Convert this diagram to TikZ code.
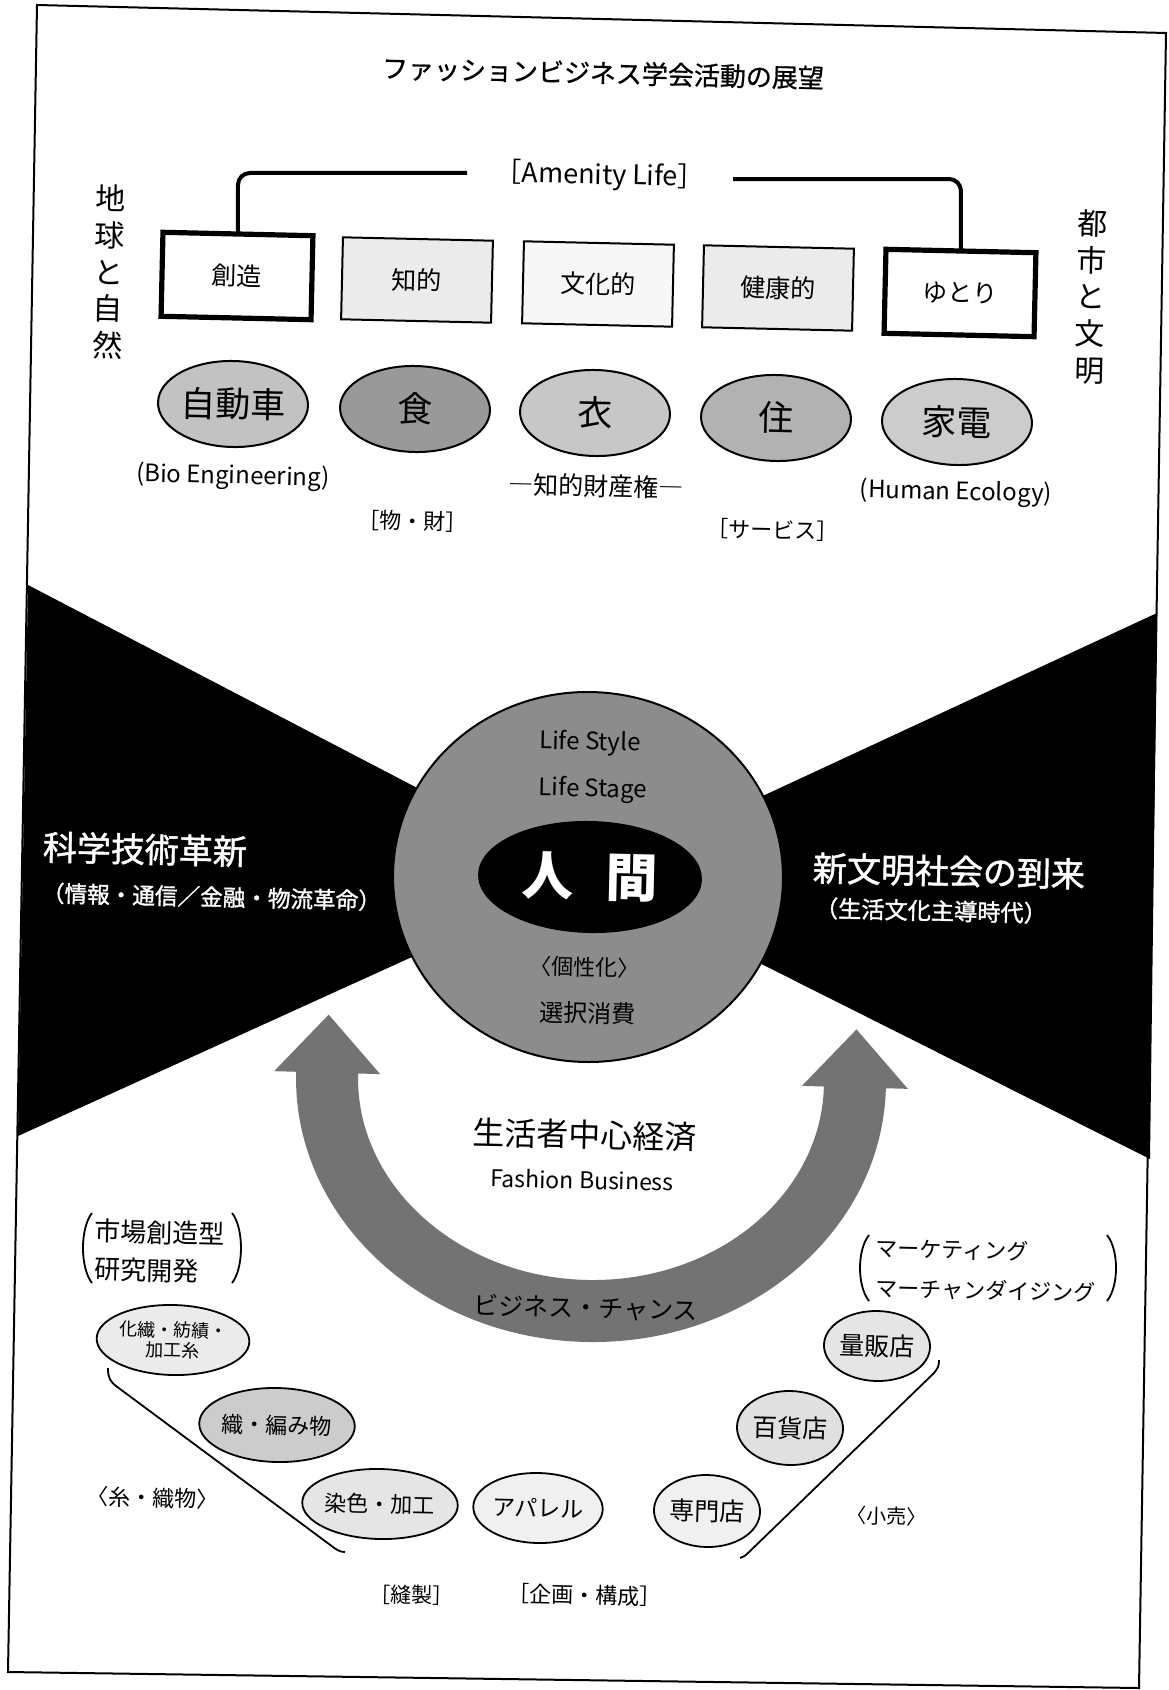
\documentclass[tikz,border=0pt]{standalone}
\usepackage{fontspec}
\setmainfont{Noto Sans CJK JP}
\newfontfamily\jpfb[FakeBold=1.4]{Noto Sans CJK JP}
\newfontfamily\jpsb[FakeBold=0.8]{Noto Sans CJK JP}
\usetikzlibrary{shapes.geometric}
\newcommand\fsz[1]{\fontsize{#1pt}{#1pt}\selectfont}
\begin{document}
\begin{tikzpicture}[x=0.5pt,y=-0.5pt,
  every node/.style={inner sep=0pt, outer sep=0pt, rotate=-1.3},
  frameline/.style={line width=1pt},
  conn/.style={line width=2pt, rounded corners=6pt},
  thinbox/.style={draw, line width=1pt, minimum width=75pt, minimum height=41pt, font=\fsz{12.5}},
  thickbox/.style={thinbox, line width=2.6pt, minimum height=42pt},
  oval/.style={ellipse, draw, line width=1pt, minimum width=75pt, minimum height=43pt, font=\fsz{17.5}},
  lbl/.style={font=\fsz{12}},
  small/.style={ellipse, draw, line width=0.9pt, minimum width=64pt, minimum height=36pt, font=\fsz{11.5}},
  shop/.style={small, minimum width=47pt, minimum height=36pt, font=\fsz{12.5}},
  whitehead/.style={text=white, font=\jpfb\fsz{17}, anchor=west},
  whitesub/.style={text=white, font=\jpfb\fsz{11.3}, anchor=west},
  bracket/.style={line width=0.9pt},
  guide/.style={line width=0.9pt}
]
\useasboundingbox (0,0) rectangle (1168,1690);
\fill[white] (0,0) rectangle (1168,1690);

% frame
\draw[frameline] (37,5) -- (1166,33) -- (1139,1688) -- (8,1672) -- cycle;

% title
\node[font=\jpsb\fsz{13}] (title) at (603,73) {ファッションビジネス学会活動の展望};

% Amenity Life
\node[font=\fsz{13.5}, inner xsep=14pt] (amen) at (600,176) {［Amenity Life］};

% side vertical texts
\node[align=center, font={\fontsize{15pt}{18.3pt}\selectfont}] (earth) at (109,272) {地\\球\\と\\自\\然};
\node[align=center, font={\fontsize{15pt}{18.3pt}\selectfont}] (city) at (1091,297) {都\\市\\と\\文\\明};

% boxes
\node[thickbox, fill=white] (b1) at (237,276) {創造};
\node[thinbox, fill=black!8] (b2) at (417,280) {知的};
\node[thinbox, fill=black!3] (b3) at (598,284) {文化的};
\node[thinbox, fill=black!8] (b4) at (778,288) {健康的};
\node[thickbox, fill=white] (b5) at (960,293) {ゆとり};

\draw[conn] (amen.west) -| (b1.north);
\draw[conn] (amen.east) -| (b5.north);

% ovals
\node[oval, fill=black!24] (e1) at (233,404) {自動車};
\node[oval, fill=black!40] (e2) at (415,409) {食};
\node[oval, fill=black!22] (e3) at (595,413) {衣};
\node[oval, fill=black!30] (e4) at (776,418) {住};
\node[oval, fill=black!20] (e5) at (957,422) {家電};

% labels
\node[lbl] (bio) at (233,477) {(Bio Engineering)};
\node[lbl, font=\fsz{11}] (mono) at (413,521) {［物・財］};
\node[lbl, font=\fsz{12.5}] (chiteki) at (596,486) {―知的財産権―};
\node[lbl, font=\fsz{11}] (serv) at (773,530) {［サービス］};
\node[lbl] (humaneco) at (956,493) {(Human Ecology)};

% black bow tie
\fill[black] (28,585) -- (588,877) -- (18,1136) -- cycle;
\fill[black] (1157,613) -- (588,877) -- (1150,1159) -- cycle;

% central globe
\node[ellipse, draw, line width=1pt, fill=black!45, minimum width=195pt, minimum height=185pt] (globe) at (588,877) {};
\node[ellipse, fill=black, minimum width=112pt, minimum height=56pt, text=white, font=\bfseries\fsz{26}] (ningen) at (590,877) {人\hspace{0.6em}間};
\node[font=\fsz{12}] (lstyle) at (590,743) {Life Style};
\node[font=\fsz{12}] (lstage) at (593,790) {Life Stage};
\node[font=\fsz{11}] (kosei) at (585,967) {〈個性化〉};
\node[font=\fsz{12}] (sentaku) at (588,1013) {選択消費};

% white texts
\node[whitehead] (kagaku) at (43,847) {科学技術革新};
\node[whitesub] (joho) at (42,893) {（情報・通信／金融・物流革命）};
\node[whitehead] (shinbun) at (813,868) {新文明社会の到来};
\node[whitesub, font=\jpfb\fsz{11.6}] (seibun) at (815,908) {（生活文化主導時代）};

% U arrow
\begin{scope}[rotate around={-1.6:(591,1080)}]
\fill[black!55] (296,1080) arc[start angle=180, end angle=0, x radius=295, y radius=262]
  -- (908,1080) -- (855,1022) -- (802,1080) -- (824,1080)
  arc[start angle=0, end angle=180, x radius=233, y radius=200]
  -- (380,1080) -- (327,1022) -- (274,1080) -- cycle;
\end{scope}
\node[font=\fsz{16}] (seikatsusha) at (585,1135) {生活者中心経済};
\node[font=\fsz{11.5}] (fb) at (582,1180) {Fashion Business};
\node[font=\fsz{12.5}] (chance) at (586,1308) {ビジネス・チャンス};

% left bracket group
\node[font=\fsz{13}, anchor=west] (shijo) at (95,1231) {市場創造型};
\node[font=\fsz{13}, anchor=west] (kenkyu) at (95,1269) {研究開発};
\draw[bracket] (92,1213) .. controls (80,1228) and (80,1268) .. (92,1283);
\draw[bracket] (232,1213) .. controls (244,1228) and (244,1268) .. (232,1283);

% right bracket group
\node[font=\fsz{11}, anchor=west] (mkt) at (876,1248) {マーケティング};
\node[font=\fsz{11}, anchor=west] (md) at (876,1288) {マーチャンダイジング};
\draw[bracket] (869,1235) .. controls (857,1250) and (857,1286) .. (869,1301);
\draw[bracket] (1107,1235) .. controls (1119,1250) and (1119,1286) .. (1107,1301);

% small ovals
\node[small, fill=black!8, align=center, font={\fontsize{9pt}{10pt}\selectfont}, minimum height=35pt] (kasen) at (173,1340) {化繊・紡績・\\加工糸};
\node[small, fill=black!20, minimum height=37pt, font=\fsz{11}] (orihen) at (277,1425) {織・編み物};
\node[small, fill=black!10, minimum height=35pt, font=\fsz{11}] (senshoku) at (380,1504) {染色・加工};
\node[small, fill=black!6, minimum height=35pt] (apparel) at (538,1508) {アパレル};
\node[shop, fill=black!6] (senmon) at (707,1511) {専門店};
\node[shop, fill=black!12, minimum height=37pt] (hyakka) at (790,1428) {百貨店};
\node[shop, fill=black!10, minimum height=35pt] (ryohan) at (877,1346) {量販店};

% guide lines
\coordinate (la) at (108,1368);
\coordinate (lb) at (345,1552);
\coordinate (ra) at (939,1360);
\coordinate (rb) at (740,1558);
\draw[guide] (la) .. controls (108,1378) and (110,1381) .. (116,1386) -- (333,1547) .. controls (337,1550) and (340,1552) .. (lb);
\draw[guide] (ra) .. controls (939,1366) and (938,1368) .. (934,1373) -- (748,1553) .. controls (745,1556) and (743,1557) .. (rb);

% bottom labels
\node[font=\fsz{11}] (ito) at (153,1498) {〈糸・織物〉};
\node[font=\fsz{10}] (kouri) at (887,1516) {〈小売〉};
\node[font=\fsz{10.5}] (housei) at (412,1595) {［縫製］};
\node[font=\fsz{11}] (kikaku) at (585,1595) {［企画・構成］};
\end{tikzpicture}
\end{document}
